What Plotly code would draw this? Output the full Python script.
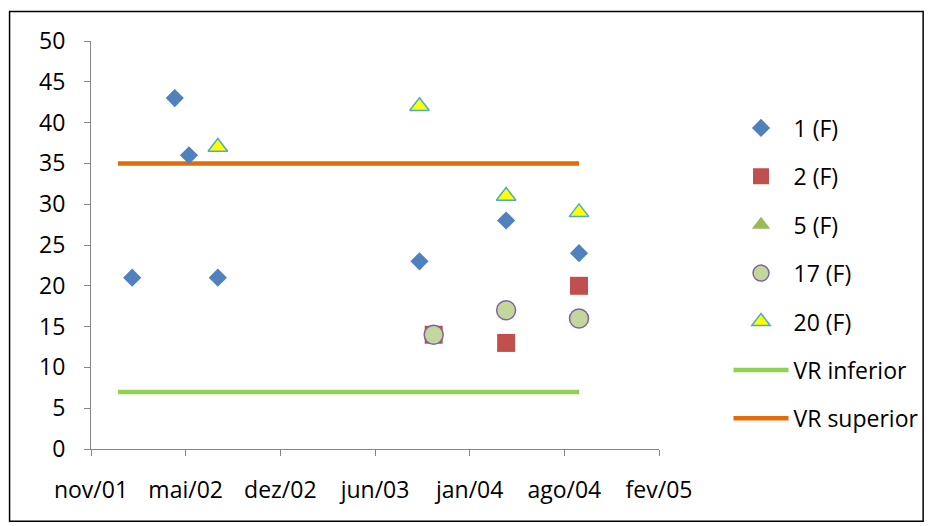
import plotly.graph_objects as go

# ---- data ----
s1_dates = ["2002-01-31", "2002-05-01", "2002-05-31", "2002-07-31", "2003-09-30", "2004-03-31", "2004-09-01"]
s1_vals = [21, 43, 36, 21, 23, 28, 24]

s2_dates = ["2003-10-30", "2004-03-31", "2004-09-01"]
s2_vals = [14, 13, 20]

s5_dates = ["2004-09-01"]
s5_vals = [16]

s17_dates = ["2003-10-30", "2004-03-31", "2004-09-01"]
s17_vals = [14, 17, 16]

s20_dates = ["2002-07-31", "2003-09-30", "2004-03-31", "2004-09-01"]
s20_vals = [37, 42, 31, 29]

vr_dates = ["2002-01-01", "2004-09-01"]
vr_inf = [7, 7]
vr_sup = [35, 35]

tick_dates = ["2001-11-05", "2002-05-24", "2002-12-10", "2003-06-28", "2004-01-14", "2004-08-01", "2005-02-17"]
tick_labels = ["nov/01", "mai/02", "dez/02", "jun/03", "jan/04", "ago/04", "fev/05"]

FONT = "Open Sans"
FS = 23

fig = go.Figure()

fig.add_trace(go.Scatter(x=vr_dates, y=vr_inf, mode="lines", name="VR inferior",
                         line=dict(color="#92D050", width=4.5), legendrank=6,
                         legendgroup="g6"))
fig.add_trace(go.Scatter(x=vr_dates, y=vr_sup, mode="lines", name="VR superior",
                         line=dict(color="#E36C09", width=4.5), legendrank=7,
                         legendgroup="g7"))

fig.add_trace(go.Scatter(x=s1_dates, y=s1_vals, mode="markers", name="1 (F)",
                         marker=dict(symbol="diamond", size=14, color="#4F81BD",
                                     line=dict(width=0)), legendrank=1, legendgroup="g1"))
fig.add_trace(go.Scatter(x=s2_dates, y=s2_vals, mode="markers", name="2 (F)",
                         marker=dict(symbol="square", size=18, color="#C0504D",
                                     line=dict(width=0)), legendrank=2, legendgroup="g2"))
fig.add_trace(go.Scatter(x=s5_dates, y=s5_vals, mode="markers", name="5 (F)",
                         marker=dict(symbol="triangle-up", size=17, color="#9BBB59",
                                     line=dict(width=0)), legendrank=3, legendgroup="g3"))
fig.add_trace(go.Scatter(x=s17_dates, y=s17_vals, mode="markers", name="17 (F)",
                         marker=dict(symbol="circle", size=19, color="#C3D69B",
                                     line=dict(width=1.5, color="#8064A2")),
                         legendrank=4, legendgroup="g4"))
fig.add_trace(go.Scatter(x=s20_dates, y=s20_vals, mode="markers", name="20 (F)",
                         marker=dict(symbol="triangle-up", size=17, color="#FFFF00",
                                     line=dict(width=1.5, color="#4BACC6")),
                         legendrank=5, legendgroup="g5"))

W, H = 935, 526
L, T = 91, 40.5
pw, ph = 572, 408.2
R = W - L - pw
B = H - T - ph

def px_x(x):
    return (x - L) / pw

def px_y(y):
    return 1 - (y - T) / ph

fig.update_layout(
    width=W, height=H,
    margin=dict(l=L, r=R, t=T, b=B, pad=0),
    paper_bgcolor="white", plot_bgcolor="white",
    font=dict(family=FONT, size=FS, color="#000000"),
    showlegend=True,
    legend=dict(x=px_x(733), xanchor="left",
                y=px_y(106), yanchor="top",
                font=dict(family=FONT, size=FS, color="#000000"),
                tracegroupgap=15.5, itemwidth=55,
                bgcolor="rgba(0,0,0,0)", borderwidth=0),
    xaxis=dict(type="date", range=["2001-11-05", "2005-02-17"],
               tickmode="array", tickvals=tick_dates, ticktext=tick_labels,
               showgrid=False, zeroline=False, showline=True, linecolor="#868686",
               linewidth=1.2, ticks="outside", ticklen=6, tickcolor="#868686",
               tickwidth=1.2, ticklabelstandoff=14,
               tickfont=dict(family=FONT, size=FS, color="#000000")),
    yaxis=dict(range=[0, 50], tickmode="linear", tick0=0, dtick=5,
               showgrid=False, zeroline=False, showline=True, linecolor="#868686",
               linewidth=1.2, ticks="outside", ticklen=6, tickcolor="#868686",
               tickwidth=1.2, ticklabelstandoff=14,
               tickfont=dict(family=FONT, size=FS, color="#000000")),
    shapes=[dict(type="rect", xref="paper", yref="paper",
                 x0=px_x(9), x1=px_x(929),
                 y0=px_y(521), y1=px_y(11),
                 line=dict(color="#000000", width=1.5), fillcolor="rgba(0,0,0,0)",
                 layer="below")],
)

fig.write_html("out.html", config={"displayModeBar": False},
               post_script="document.body.style.margin='0px';document.body.style.overflow='hidden';")
